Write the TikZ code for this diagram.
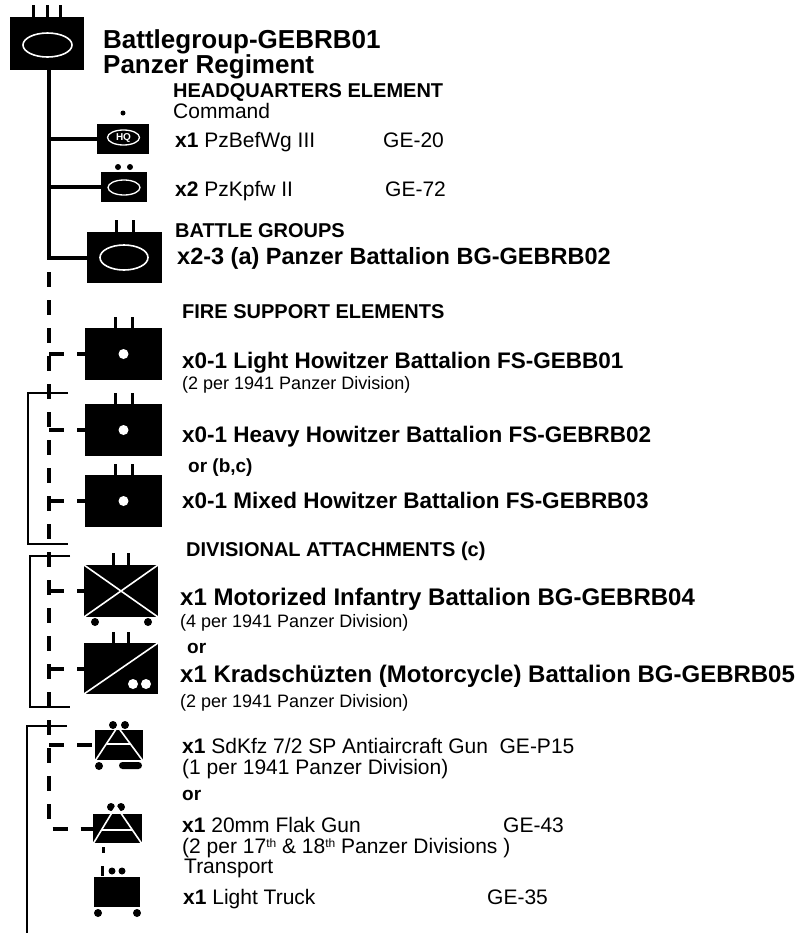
\documentclass[tikz,border=0pt]{standalone}
\usepackage{fontspec}
\setmainfont{Liberation Sans}
\newcommand{\ordsup}[1]{\raisebox{6pt}{\fontsize{12pt}{12pt}\selectfont #1}}

\begin{document}
\begin{tikzpicture}[x=1pt, y=-1pt,
	unit/.style={fill=black, inner sep=0pt, outer sep=0pt},
	tick/.style={line width=3pt},
	whiteline/.style={white, line width=1.6pt},
	solidlink/.style={line width=4pt},
	dashlink/.style={line width=4pt, dash pattern=on 15pt off 13pt},
	bracket/.style={line width=1.2pt},
	txt/.style={anchor=base west, inner sep=0pt},
	titletext/.style={txt, font=\bfseries\fontsize{26pt}{26pt}\selectfont},
	headtext/.style={txt, font=\bfseries\fontsize{20pt}{20pt}\selectfont},
	unittext/.style={txt, font=\bfseries\fontsize{23.5pt}{23.5pt}\selectfont},
	fstext/.style={txt, font=\bfseries\fontsize{22.5pt}{22.5pt}\selectfont},
	divtext/.style={txt, font=\bfseries\fontsize{24pt}{24pt}\selectfont},
	notetext/.style={txt, font=\fontsize{18pt}{18pt}\selectfont},
	itemtext/.style={txt, font=\fontsize{21pt}{21pt}\selectfont},
	ortext/.style={txt, font=\bfseries\fontsize{19pt}{19pt}\selectfont}]
	\useasboundingbox (0,0) rectangle (802,935);

	% regiment
	\node [unit, minimum width=74pt, minimum height=53pt] (top) at (47,43.5) {};
	\draw [tick] ([xshift=-13.5pt]top.north) -- ++(0,-12);
	\draw [tick] (top.north) -- ++(0,-12);
	\draw [tick] ([xshift=13.5pt]top.north) -- ++(0,-12);
	\draw [whiteline] (47.5,45) ellipse (24.5pt and 12pt);
	\node [titletext] (title1) at (103,48) {Battlegroup-GEBRB01};
	\node [titletext] (title2) at (103,73) {Panzer Regiment};

	% headquarters element
	\node [headtext] (hqhead) at (173,97) {HEADQUARTERS ELEMENT};
	\node [itemtext] (command) at (173,118) {Command};
	\node [unit, minimum width=52pt, minimum height=30pt] (hq) at (123,139) {};
	\fill (123,113) circle (2.5pt);
	\draw [white, line width=1.3pt] (123.5,137.5) ellipse (16pt and 7.5pt);
	\node [white, inner sep=0pt, font=\bfseries\fontsize{10pt}{10pt}\selectfont] (hqlabel) at (123.5,137.5) {HQ};
	\node [itemtext] (hqitem) at (175,147) {\textbf{x1} PzBefWg III};
	\node [itemtext] (hqcode) at (383,147) {GE-20};

	\node [unit, minimum width=46pt, minimum height=30pt] (pz) at (124,187) {};
	\fill (118,167) circle (3pt) (130,167) circle (3pt);
	\draw [white, line width=1.3pt] (124,187.5) ellipse (16pt and 7.5pt);
	\node [itemtext] (pzitem) at (175,196) {\textbf{x2} PzKpfw II};
	\node [itemtext] (pzcode) at (385,196) {GE-72};

	% battle groups
	\node [headtext] (bghead) at (175,237) {BATTLE GROUPS};
	\node [unit, minimum width=75pt, minimum height=51pt] (bg) at (124.5,257.5) {};
	\draw [tick] ([xshift=-8.5pt]bg.north) -- ++(0,-12);
	\draw [tick] ([xshift=8.5pt]bg.north) -- ++(0,-12);
	\draw [whiteline] (124,257.5) ellipse (24pt and 12.5pt);
	\node [unittext] (bgitem) at (177,264) {x2-3 (a) Panzer Battalion BG-GEBRB02};

	% fire support elements
	\node [headtext] (fshead) at (182,318) {FIRE SUPPORT ELEMENTS};
	\node [unit, minimum width=77pt, minimum height=52pt] (fs1) at (123.5,354) {};
	\draw [tick] ([xshift=-8.5pt]fs1.north) -- ++(0,-11);
	\draw [tick] ([xshift=8.5pt]fs1.north) -- ++(0,-11);
	\fill [white] (fs1.center) circle (5pt);
	\node [fstext] (fs1item) at (182,368) {x0-1 Light Howitzer Battalion FS-GEBB01};
	\node [notetext] (fs1note) at (182,389) {(2 per 1941 Panzer Division)};

	\node [unit, minimum width=77pt, minimum height=52pt] (fs2) at (123.5,430) {};
	\draw [tick] ([xshift=-8.5pt]fs2.north) -- ++(0,-11);
	\draw [tick] ([xshift=8.5pt]fs2.north) -- ++(0,-11);
	\fill [white] (fs2.center) circle (5pt);
	\node [fstext] (fs2item) at (182,442) {x0-1 Heavy Howitzer Battalion FS-GEBRB02};
	\node [ortext] (fs2or) at (188,472) {or (b,c)};

	\node [unit, minimum width=77pt, minimum height=52pt] (fs3) at (123.5,501) {};
	\draw [tick] ([xshift=-8.5pt]fs3.north) -- ++(0,-11);
	\draw [tick] ([xshift=8.5pt]fs3.north) -- ++(0,-11);
	\fill [white] (fs3.center) circle (5pt);
	\node [fstext] (fs3item) at (182,508) {x0-1 Mixed Howitzer Battalion FS-GEBRB03};

	% divisional attachments
	\node [headtext] (divhead) at (186,556) {DIVISIONAL ATTACHMENTS (c)};
	\node [unit, minimum width=74pt, minimum height=52pt] (inf) at (121,591) {};
	\draw [tick] ([xshift=-7.5pt]inf.north) -- ++(0,-12);
	\draw [tick] ([xshift=7.5pt]inf.north) -- ++(0,-12);
	\draw [whiteline] (inf.north west) -- (inf.south east) (inf.south west) -- (inf.north east);
	\fill (95,622) circle (4pt) (148,622) circle (4pt);
	\node [divtext] (infitem) at (180,605) {x1 Motorized Infantry Battalion BG-GEBRB04};
	\node [notetext] (infnote) at (180,627) {(4 per 1941 Panzer Division)};
	\node [ortext] (infor) at (187,653) {or};

	\node [unit, minimum width=74pt, minimum height=51pt] (moto) at (121,668.5) {};
	\draw [tick] ([xshift=-7.5pt]moto.north) -- ++(0,-11);
	\draw [tick] ([xshift=7.5pt]moto.north) -- ++(0,-11);
	\draw [whiteline] (moto.south west) -- (moto.north east);
	\fill [white] (133,684) circle (5pt) (146,684) circle (5pt);
	\node [divtext] (motoitem) at (180,682) {x1 Kradschüzten (Motorcycle) Battalion BG-GEBRB05};
	\node [notetext] (motonote) at (180,707) {(2 per 1941 Panzer Division)};

	% anti-aircraft
	\node [unit, minimum width=48pt, minimum height=30pt] (sdkfz) at (119,745) {};
	\fill (113,725) circle (4pt) (125,725) circle (4pt);
	\draw [whiteline] (95,761) -- (117.7,726.7) -- (143,761);
	\draw [whiteline] (106.5,744) -- (130.3,744);
	\fill (99,766) circle (4pt);
	\fill [rounded corners=3.5pt] (119,762) rectangle (142,769);
	\node [itemtext] (sdkfzitem) at (182,753) {\textbf{x1} SdKfz 7/2 SP Antiaircraft Gun\ \ GE-P15};
	\node [itemtext] (sdkfznote) at (182,774) {(1 per 1941 Panzer Division)};
	\node [ortext] (aaor) at (182,800) {or};

	\node [unit, minimum width=49pt, minimum height=29pt] (flak) at (117.5,828.5) {};
	\fill (111,807) circle (4pt) (121,807) circle (4pt);
	\draw [whiteline] (93,844) -- (116,806) -- (142,844);
	\draw [whiteline] (101.5,830) -- (132.4,830);
	\fill (101.5,847) rectangle (104.5,853);
	\node [itemtext] (flakitem) at (182,832) {\textbf{x1} 20mm Flak Gun};
	\node [itemtext] (flakcode) at (503,832) {GE-43};
	\node [itemtext] (flaknote) at (182,853) {(2 per 17\ordsup{th} \& 18\ordsup{th} Panzer Divisions )};

	% transport
	\node [itemtext] (transport) at (184,873) {Transport};
	\node [unit, minimum width=46pt, minimum height=30pt] (truck) at (117,892) {};
	\fill (101,866) rectangle (104,876);
	\fill (112,871) circle (3.5pt) (122,871) circle (3.5pt);
	\fill (98,913) circle (4pt) (137,913) circle (4pt);
	\node [itemtext] (truckitem) at (183,904) {\textbf{x1} Light Truck};
	\node [itemtext] (truckcode) at (487,904) {GE-35};

	% connectors
	\coordinate (trunk) at (49,70);
	\draw [solidlink] (trunk) -- (trunk |- bg.west) -- (bg.west);
	\draw [solidlink] (trunk |- hq.west) -- (hq.west);
	\draw [solidlink] (trunk |- pz.west) -- (pz.west);
	\coordinate (dashtop) at (49,272);
	\draw [dashlink] (dashtop) -- (dashtop |- flak.west) -- (flak.west);
	\draw [dashlink] (dashtop |- fs1.west) -- (fs1.west);
	\draw [dashlink] (dashtop |- fs2.west) -- (fs2.west);
	\draw [dashlink] (dashtop |- fs3.west) -- (fs3.west);
	\draw [dashlink] (dashtop |- inf.west) -- (inf.west);
	\draw [dashlink] (dashtop |- moto.west) -- (moto.west);
	\draw [dashlink] (dashtop |- sdkfz.west) -- (sdkfz.west);

	% brackets
	\coordinate (orfsa) at (68,393);
	\coordinate (orfsb) at (68,544);
	\draw [bracket] (orfsa) -- ++(-40,0) |- (orfsb);
	\coordinate (ordiva) at (70,556);
	\coordinate (ordivb) at (70,707);
	\draw [bracket] (ordiva) -- ++(-40,0) |- (ordivb);
	\coordinate (oraaa) at (67,726);
	\coordinate (oraab) at (27,933);
	\draw [bracket] (oraaa) -| (oraab);
\end{tikzpicture}
\end{document}
